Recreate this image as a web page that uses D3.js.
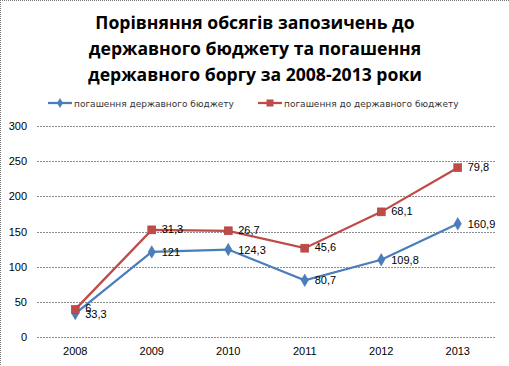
<!DOCTYPE html>
<html><head><meta charset="utf-8">
<script src="https://cdn.jsdelivr.net/npm/d3@7"></script>
<style>body{margin:0;background:#fff}svg{display:block}</style>
</head><body>
<svg id="c" width="509" height="366"></svg>
<script>
const titleLines = ["Порівняння обсягів запозичень до", "державного бюджету та погашення", "державного боргу за 2008-2013 роки"];
const years = ["2008","2009","2010","2011","2012","2013"];
const seriesNames = ["погашення державного бюджету", "погашення до державного бюджету"];
const blueValues = [33.3, 121, 124.3, 80.7, 109.8, 160.9];
const redValues = [6, 31.3, 26.7, 45.6, 68.1, 79.8];
const yTicks = [0, 50, 100, 150, 200, 250, 300];

const svg = d3.select("#c");
const W = 509, H = 366;
const blue = "#4a7ebb", red = "#be4b48";
const font = "'Liberation Sans', Arial, sans-serif";

// border
svg.append("line").attr("x1",0.5).attr("y1",0).attr("x2",0.5).attr("y2",H).attr("stroke","#777").attr("stroke-dasharray","1,1");
svg.append("line").attr("x1",0).attr("y1",0.5).attr("x2",W).attr("y2",0.5).attr("stroke","#777").attr("stroke-dasharray","1,1");

// title
svg.append("g").selectAll("text").data(titleLines).join("text")
  .attr("x", 255).attr("y", (d,i)=>29 + i*26)
  .attr("text-anchor","middle").attr("font-family","'Open Sans', sans-serif")
  .attr("font-weight","bold").attr("font-size",17.6).attr("fill","#000").text(d=>d);

const x = d3.scaleBand().domain(years).range([37, 496]);
const y = d3.scaleLinear().domain([0,300]).range([337, 126]);

// grid
svg.append("g").selectAll("line").data(yTicks).join("line")
  .attr("x1",37).attr("x2",496).attr("y1",d=>Math.round(y(d))+0.5).attr("y2",d=>Math.round(y(d))+0.5)
  .attr("stroke","#8c8c8c").attr("stroke-dasharray","2,1");

// y axis labels
const yAxis = d3.axisLeft(y).tickValues(yTicks).tickSize(0).tickPadding(10).tickFormat(d3.format("d"));
const ya = svg.append("g").attr("transform","translate(37,0)").call(yAxis);
ya.select(".domain").remove();
ya.selectAll("text").attr("font-family",font).attr("font-size",11).attr("fill","#000");

const xAxis = d3.axisBottom(x).tickSize(0).tickPadding(10);
const xa = svg.append("g").attr("transform","translate(0,337)").call(xAxis);
xa.select(".domain").remove();
xa.selectAll("text").attr("font-family",font).attr("font-size",11).attr("fill","#000");

const cx = d => x(d) + x.bandwidth()/2;
const blueData = years.map((yr,i)=>({yr, v: blueValues[i], label: blueValues[i]}));
const redData = years.map((yr,i)=>({yr, v: blueValues[i] + redValues[i], label: redValues[i]}));
const fmt = v => String(v).replace(".", ",");

const line = d3.line().x(d=>cx(d.yr)).y(d=>y(d.v));
svg.append("path").datum(blueData).attr("d",line).attr("fill","none").attr("stroke",blue).attr("stroke-width",2.25);
svg.append("path").datum(redData).attr("d",line).attr("fill","none").attr("stroke",red).attr("stroke-width",2.25);

svg.append("g").selectAll("path").data(blueData).join("path")
  .attr("d", d3.symbol(d3.symbolDiamond, 45))
  .attr("transform", d=>`translate(${cx(d.yr)},${y(d.v)})`)
  .attr("fill", blue).attr("stroke","#3c6ea8").attr("stroke-width",0.5);
svg.append("g").selectAll("rect").data(redData).join("rect")
  .attr("x", d=>cx(d.yr)-4).attr("y", d=>y(d.v)-4).attr("width",8).attr("height",8)
  .attr("fill", red).attr("stroke","#a93f3c").attr("stroke-width",0.5);

// data labels
svg.append("g").selectAll("text").data(blueData).join("text")
  .attr("x", d=>cx(d.yr)+10).attr("y", d=>y(d.v)+4)
  .attr("font-family",font).attr("font-size",11).attr("fill","#000").text(d=>fmt(d.label));
svg.append("g").selectAll("text").data(redData).join("text")
  .attr("x", d=>cx(d.yr)+10).attr("y", d=>y(d.v)+3)
  .attr("font-family",font).attr("font-size",11).attr("fill","#000").text(d=>fmt(d.label));

// legend
const legend = svg.append("g");
const lx = [48, 258], lc = [blue, red];
seriesNames.forEach((n,i)=>{
  const g = legend.append("g").attr("transform",`translate(${lx[i]},103)`);
  g.append("line").attr("x1",0).attr("x2",24).attr("y1",0).attr("y2",0).attr("stroke",lc[i]).attr("stroke-width",2.25);
  if(i===0) g.append("path").attr("d",d3.symbol(d3.symbolDiamond,30)).attr("transform","translate(12,0)").attr("fill",blue);
  else g.append("rect").attr("x",8.5).attr("y",-3.5).attr("width",7).attr("height",7).attr("fill",red);
  g.append("text").attr("x",26).attr("y",3.5).attr("font-family","'DejaVu Sans', sans-serif").attr("font-size",9).attr("fill","#333").text(n);
});
</script>
</body></html>
